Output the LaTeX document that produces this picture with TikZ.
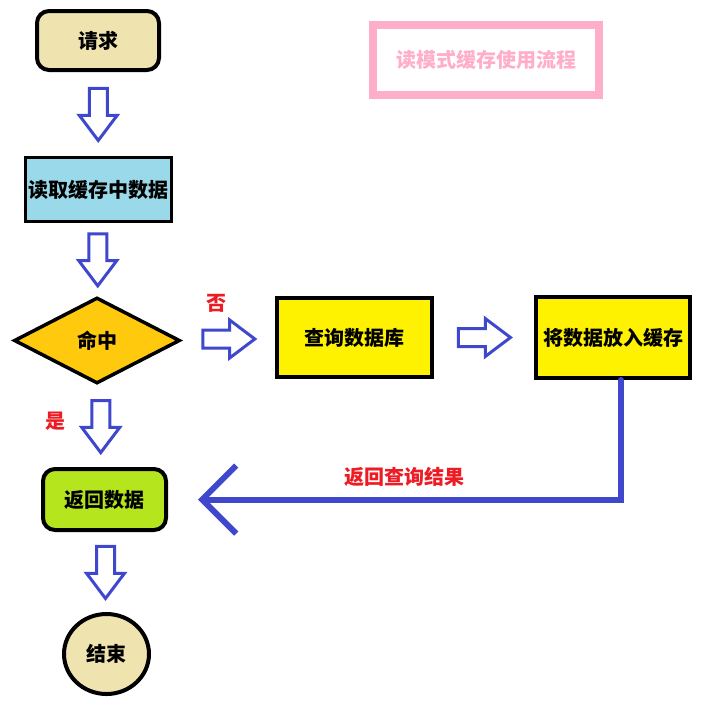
\documentclass[tikz,border=0pt]{standalone}
\usepackage{fontspec}
\setmainfont{Noto Sans CJK SC}
\usepackage{tikz}
\usetikzlibrary{arrows.meta,positioning,shapes.geometric,shapes.arrows,calc}

\definecolor{wheatfill}{HTML}{EFE4B0}
\definecolor{cachefill}{HTML}{99D9EA}
\definecolor{hitfill}{HTML}{FFC90E}
\definecolor{dbfill}{HTML}{FFF200}
\definecolor{retfill}{HTML}{B5E61D}
\definecolor{titlepink}{HTML}{FFAEC9}
\definecolor{flowblue}{HTML}{3F48CC}
\definecolor{tagred}{HTML}{ED1C24}

\begin{document}
\begin{tikzpicture}[x=1pt, y=-1pt, font=\bfseries\fontsize{20}{20}\selectfont,
  box/.style={draw, line width=4pt, inner sep=0pt},
  hollow/.style={single arrow, draw=flowblue, line width=3pt, fill=white,
    minimum height=52pt, minimum width=36pt, single arrow head extend=10pt,
    single arrow tip angle=74, inner xsep=0pt, inner ysep=7.5pt, text width=0pt,
    text height=0pt, text depth=0pt},
  downhollow/.style={hollow, rotate=-90, xshift=-5.5pt},
  righthollow/.style={hollow, xshift=-5.5pt},
  tag/.style={text=tagred}]
\useasboundingbox (0,0) rectangle (714,710);

% title
\node[draw=titlepink, line width=8pt, minimum width=226pt, minimum height=70pt,
  text=titlepink] (title) at (486,60) {读模式缓存使用流程};

% flow nodes
\node[box, fill=wheatfill, rounded corners=12pt, minimum width=122pt, minimum height=59pt] (req) at (98,40.5) {请求};
\node[box, line width=3pt, fill=cachefill, minimum width=146pt, minimum height=64pt] (read) at (98.5,189.5) {读取缓存中数据};
\node[box, line width=3.5pt, diamond, fill=hitfill, minimum width=166pt, minimum height=86pt] (hit) at (97,340.5) {命中};
\node[box, fill=dbfill, minimum width=155pt, minimum height=79pt] (query) at (354.5,337.5) {查询数据库};
\node[box, fill=dbfill, minimum width=154pt, minimum height=81pt] (put) at (613,337.5) {将数据放入缓存};
\node[box, fill=retfill, rounded corners=12pt, minimum width=123pt, minimum height=61pt] (ret) at (104.5,499.5) {返回数据};
\node[box, ellipse, fill=wheatfill, minimum width=85pt, minimum height=80pt] (done) at (106.5,654) {结束};

% hollow arrows
\node[downhollow] (a1) at ($(req.south)!0.5!(read.north)$) {};
\node[downhollow] (a2) at ($(read.south)!0.5!(hit.north)$) {};
\node[righthollow] (a3) at ($(hit.east)!0.5!(query.west)$) {};
\node[righthollow] (a4) at ($(query.east)!0.5!(put.west)$) {};
\node[downhollow] (a5) at ($(hit.south)!0.5!(ret.north)$) {};
\node[downhollow] (a6) at ($(ret.south)!0.5!(done.north)$) {};

\node[tag] (no) at (216,303) {否};
\node[tag] (yes) at (55,421) {是};

% return path
\coordinate (tip) at ([xshift=30pt]ret.east);
\draw[flowblue, line width=6pt, line cap=round,
  -{Straight Barb[length=34pt, width=68pt]}]
  ([xshift=8pt]put.south) |- (tip);
\node[tag] (back) at (404,477) {返回查询结果};
\end{tikzpicture}
\end{document}
